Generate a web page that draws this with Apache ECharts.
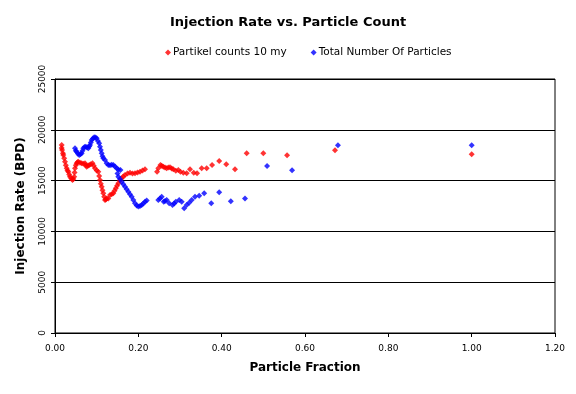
<!DOCTYPE html>
<html><head><meta charset="utf-8">
<script src="https://cdn.jsdelivr.net/npm/echarts@6/dist/echarts.min.js"></script>
<style>html,body{margin:0;padding:0;background:#fff}#c{width:576px;height:394px}</style>
</head><body><div id="c"></div>
<script>
const titleText = 'Injection Rate vs. Particle Count';
const xName = 'Particle Fraction';
const yName = 'Injection Rate (BPD)';
const redName = 'Partikel counts 10 my';
const blueName = 'Total Number Of Particles';

const redX = [0.016,0.016,0.017,0.019,0.020,0.022,0.024,0.026,0.028,0.030,0.032,0.034,0.036,0.039,0.042,0.044,0.046,0.047,0.048,0.050,0.052,0.054,0.056,0.060,0.064,0.068,0.072,0.074,0.076,0.079,0.082,0.086,0.090,0.093,0.096,0.100,0.104,0.106,0.108,0.110,0.112,0.114,0.116,0.118,0.120,0.122,0.124,0.128,0.132,0.136,0.140,0.143,0.146,0.149,0.152,0.156,0.160,0.164,0.168,0.174,0.180,0.186,0.192,0.198,0.204,0.210,0.216,
0.245,0.248,0.253,0.256,0.260,0.264,0.268,0.272,0.276,0.280,0.284,0.290,0.296,0.301,0.308,0.316,0.324,0.333,0.341,0.352,0.364,0.377,0.394,0.411,0.432,0.460,0.500,0.557,0.672,1.000];
const redY = [18500,18200,18010,17700,17520,17200,16860,16500,16210,16000,15880,15600,15380,15200,15060,15150,15380,15800,16210,16500,16700,16800,16860,16750,16700,16650,16700,16500,16370,16450,16540,16600,16700,16450,16210,16000,15880,15450,15060,14700,14400,14050,13750,13400,13090,13150,13250,13250,13580,13650,13750,14000,14240,14500,14730,15000,15230,15400,15550,15700,15780,15700,15720,15800,15880,16000,16110,
15880,16210,16540,16450,16370,16300,16210,16280,16310,16200,16110,15980,16040,15880,15780,15720,16110,15780,15720,16210,16210,16540,16930,16600,16110,17690,17690,17490,17980,17590];

const blueX = [0.048,0.050,0.052,0.055,0.058,0.061,0.064,0.066,0.068,0.071,0.074,0.077,0.080,0.082,0.084,0.086,0.088,0.091,0.094,0.097,0.100,0.103,0.106,0.108,0.110,0.112,0.114,0.116,0.120,0.124,0.128,0.132,0.136,0.140,0.144,0.148,0.152,0.157,0.150,0.152,0.156,0.160,0.164,0.168,0.172,0.176,0.180,0.184,0.188,0.192,0.196,0.200,0.204,0.208,0.212,0.216,0.220,
0.248,0.252,0.256,0.261,0.264,0.268,0.274,0.282,0.286,0.290,0.298,0.304,0.310,0.316,0.322,0.328,0.336,0.346,0.358,0.375,0.394,0.422,0.456,0.509,0.569,0.679,1.000];
const blueY = [18180,17950,17850,17650,17520,17600,17690,17950,18180,18300,18340,18250,18180,18350,18500,18750,19000,19150,19260,19250,19160,18900,18670,18340,18000,17690,17400,17200,17030,16700,16540,16500,16550,16540,16400,16210,16100,16040,15700,15380,15150,14890,14650,14400,14150,13910,13650,13420,13100,12770,12550,12440,12500,12600,12750,12930,13050,
13090,13250,13420,12930,13000,13090,12770,12600,12750,12930,13090,12930,12270,12600,12830,13090,13420,13520,13750,12770,13850,12960,13250,16440,16010,18480,18480];

const xTicks = {min: 0, max: 1.2, interval: 0.2};
const yTicks = {min: 0, max: 25000, interval: 5000};

const zip = (a, b) => a.map((v, i) => [v, b[i]]);
const font = 'DejaVu Sans';
const chart = echarts.init(document.getElementById('c'), null, {renderer: 'canvas'});
chart.setOption({
  animation: false,
  backgroundColor: '#fff',
  title: {text: titleText, left: 'center', top: 11,
    textStyle: {fontFamily: font, fontSize: 13, fontWeight: 'bold', color: '#000'}},
  legend: {top: 42, left: 160, itemGap: 24, itemWidth: 6, itemHeight: 6,
    textStyle: {fontFamily: font, fontSize: 10.5, color: '#000', padding: [0,0,0,-3]},
    data: [{name: redName, icon: 'diamond'}, {name: blueName, icon: 'diamond'}]},
  grid: {left: 55, right: 21, top: 79, bottom: 61, show: true, borderColor: '#000', borderWidth: 1},
  xAxis: {type: 'value', min: xTicks.min, max: xTicks.max, interval: xTicks.interval,
    name: xName, nameLocation: 'middle', nameGap: 29,
    nameTextStyle: {fontFamily: font, fontSize: 12, fontWeight: 'bold', color: '#000'},
    axisLine: {lineStyle: {color: '#000'}}, axisTick: {show: true, length: 4, lineStyle: {color: '#000'}},
    axisLabel: {fontFamily: font, fontSize: 9, color: '#000', margin: 11, formatter: v => v.toFixed(2)},
    splitLine: {show: false}},
  yAxis: {type: 'value', min: yTicks.min, max: yTicks.max, interval: yTicks.interval,
    name: yName, nameLocation: 'middle', nameGap: 28,
    nameTextStyle: {fontFamily: font, fontSize: 12, fontWeight: 'bold', color: '#000'},
    axisLine: {show: true, lineStyle: {color: '#000'}}, axisTick: {show: true, length: 4, lineStyle: {color: '#000'}},
    axisLabel: {fontFamily: font, fontSize: 9, color: '#000', rotate: 90, margin: 8, formatter: v => String(v)},
    splitLine: {show: true, lineStyle: {color: '#000', width: 1}}},
  series: [
    {name: redName, type: 'scatter', symbol: 'diamond', symbolSize: 6, itemStyle: {color: '#ff0000'}, data: zip(redX, redY)},
    {name: blueName, type: 'scatter', symbol: 'diamond', symbolSize: 6, itemStyle: {color: '#0000ff'}, data: zip(blueX, blueY)}
  ]
});
</script></body></html>
